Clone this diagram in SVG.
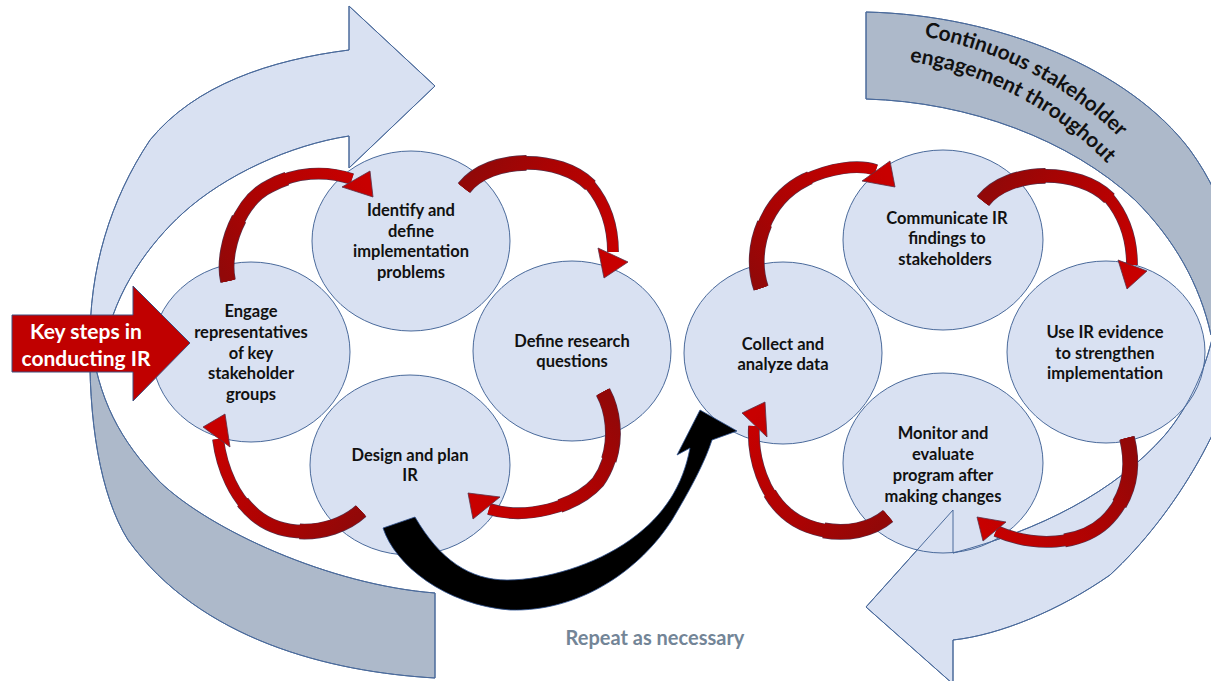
<svg xmlns="http://www.w3.org/2000/svg" xmlns:xlink="http://www.w3.org/1999/xlink" width="1211" height="681" viewBox="0 0 1211 681">
<defs>
<style>
.lt{fill:#D9E1F2;stroke:#4A6A9B;stroke-width:1}
.gr{fill:#ADB9CA;stroke:#4A6A9B;stroke-width:1}
.ol{fill:none;stroke:#4A6A9B;stroke-width:1}
.circ{fill:#D9E1F2;stroke:#4A6A9B;stroke-width:1}
.t{font-family:Lato,'Liberation Sans',sans-serif;font-weight:700;font-size:16.5px;fill:#111;text-anchor:middle}
.o1{fill:none;stroke:#5A3048;stroke-width:11.8}
.o2{fill:none;stroke:#5A3048;stroke-width:13.8;stroke-dasharray:66 200}
.o3{fill:none;stroke:#5A3048;stroke-width:15.8;stroke-dasharray:33 200}
.r1{fill:none;stroke-width:10.4}
.r2{fill:none;stroke-width:12.4;stroke-dasharray:66 200}
.r3{fill:none;stroke-width:14.4;stroke-dasharray:33 200}
.head{stroke:#5A3048;stroke-width:0.8}
</style>
<linearGradient id="rg"><stop offset="0" stop-color="#920808"/><stop offset="0.35" stop-color="#AA0303"/><stop offset="1" stop-color="#C80000"/></linearGradient>
<linearGradient id="gA" xlink:href="#rg" gradientUnits="userSpaceOnUse" x1="228" y1="281" x2="373" y2="197"/>
<linearGradient id="gB" xlink:href="#rg" gradientUnits="userSpaceOnUse" x1="464" y1="188" x2="604" y2="278"/>
<linearGradient id="gC" xlink:href="#rg" gradientUnits="userSpaceOnUse" x1="603" y1="392" x2="468" y2="493"/>
<linearGradient id="gD" xlink:href="#rg" gradientUnits="userSpaceOnUse" x1="361" y1="511" x2="225" y2="414"/>
<linearGradient id="gE" xlink:href="#rg" gradientUnits="userSpaceOnUse" x1="761" y1="288" x2="895" y2="187"/>
<linearGradient id="gF" xlink:href="#rg" gradientUnits="userSpaceOnUse" x1="983" y1="201" x2="1127" y2="289"/>
<linearGradient id="gG" xlink:href="#rg" gradientUnits="userSpaceOnUse" x1="1127" y1="438" x2="977" y2="517"/>
<linearGradient id="gH" xlink:href="#rg" gradientUnits="userSpaceOnUse" x1="888" y1="516" x2="765" y2="402"/>
<path id="cA" pathLength="100" d="M228,281 C221,250 240,200 270,186 C295,172 325,170 352,179"/>
<path id="cB" pathLength="100" d="M464,188 C490,155 560,155 590,185 C605,203 613,225 613,252"/>
<path id="cC" pathLength="100" d="M603,392 C617,418 617,455 598,482 C575,508 525,520 489,509"/>
<path id="cD" pathLength="100" d="M361,511 C335,535 285,540 255,515 C235,498 222,470 218,439"/>
<path id="cE" pathLength="100" d="M761,288 C748,250 765,200 805,180 C830,168 858,164 876,170"/>
<path id="cF" pathLength="100" d="M983,201 C1009,168 1079,168 1109,198 C1124,216 1132,238 1132,265"/>
<path id="cG" pathLength="100" d="M1127,438 C1135,470 1128,500 1105,522 C1080,545 1035,548 996,531"/>
<path id="cH" pathLength="100" d="M888,516 C860,540 810,535 786,513 C765,495 752,460 754,426"/>
<path id="pL1" d="M90,345 C89,270 110,200 150,140 C195,85 270,60 349,50 L349,6 L435,86 L349,168 L349,136 C290,145 225,175 183,213 C150,243 115,290 105,345 Z"/>
<path id="pL2" d="M435,678 C330,672 200,640 128,540 C100,495 88,420 90,335 C98,400 120,440 160,482 C210,530 330,585 435,593 Z"/>
<path id="pR1" d="M866,12 C1000,15 1130,70 1190,150 C1230,205 1245,270 1245,340 L1211,335 C1200,285 1175,240 1135,200 C1070,140 970,102 866,99 Z"/>
<path id="pR2" d="M1245,330 C1235,415 1175,515 1110,575 C1060,610 1000,635 953,640 L953,684 L866,607 L953,510 L953,553 C1040,530 1115,492 1165,435 C1190,405 1205,370 1213,335 Z"/>
<path id="arcT1" d="M778.9,40 A369,369 0 0 1 1200.4,257.6"/>
<path id="arcT2" d="M784.8,66.4 A342,342 0 0 1 1175.5,268"/>
</defs>

<g id="big-arrows">
<use xlink:href="#pL2" class="gr"/>
<use xlink:href="#pL1" class="lt"/>
<use xlink:href="#pR1" class="gr"/>
<use xlink:href="#pR2" class="lt"/>
</g>

<g id="node-engage">
<ellipse class="circ" cx="251" cy="352" rx="99" ry="90"/>
<text class="t"><tspan x="251" y="317">Engage</tspan><tspan x="251" y="338">representatives</tspan><tspan x="251" y="358.5">of key</tspan><tspan x="251" y="379">stakeholder</tspan><tspan x="251" y="400">groups</tspan></text>
</g>
<g id="node-identify">
<ellipse class="circ" cx="411" cy="241" rx="99" ry="90"/>
<text class="t"><tspan x="411" y="216">Identify and</tspan><tspan x="411" y="236.5">define</tspan><tspan x="411" y="257">implementation</tspan><tspan x="411" y="277.5">problems</tspan></text>
</g>
<g id="node-define">
<ellipse class="circ" cx="572" cy="351" rx="99" ry="90"/>
<text class="t"><tspan x="572" y="346.5">Define research</tspan><tspan x="572" y="367">questions</tspan></text>
</g>
<g id="node-design">
<ellipse class="circ" cx="410" cy="465" rx="100" ry="90"/>
<text class="t"><tspan x="410" y="460.5">Design and plan</tspan><tspan x="410" y="481">IR</tspan></text>
</g>
<g id="node-collect">
<ellipse class="circ" cx="783" cy="353" rx="99" ry="91"/>
<text class="t"><tspan x="783" y="349.5">Collect and</tspan><tspan x="783" y="370">analyze data</tspan></text>
</g>
<g id="node-communicate">
<ellipse class="circ" cx="943" cy="240" rx="100" ry="90"/>
<text class="t"><tspan x="947" y="224">Communicate IR</tspan><tspan x="947" y="244">findings to</tspan><tspan x="945" y="265">stakeholders</tspan></text>
</g>
<g id="node-use">
<ellipse class="circ" cx="1106" cy="352" rx="99" ry="91"/>
<text class="t"><tspan x="1105" y="338">Use IR evidence</tspan><tspan x="1105" y="358.5">to strengthen</tspan><tspan x="1105" y="379">implementation</tspan></text>
</g>
<g id="node-monitor">
<ellipse class="circ" cx="943" cy="463" rx="100" ry="90"/>
<text class="t"><tspan x="943" y="439">Monitor and</tspan><tspan x="943" y="460">evaluate</tspan><tspan x="943" y="480.5">program after</tspan><tspan x="943" y="501.5">making changes</tspan></text>
</g>

<g id="big-arrow-outlines">
<use xlink:href="#pL2" class="ol"/>
<use xlink:href="#pL1" class="ol"/>
<use xlink:href="#pR1" class="ol"/>
<use xlink:href="#pR2" class="ol"/>
</g>

<g id="connectors">
<g id="arrow-a">
<use xlink:href="#cA" class="o1"/><use xlink:href="#cA" class="o2"/><use xlink:href="#cA" class="o3"/>
<use xlink:href="#cA" class="r1" stroke="url(#gA)"/><use xlink:href="#cA" class="r2" stroke="url(#gA)"/><use xlink:href="#cA" class="r3" stroke="url(#gA)"/>
<polygon class="head" fill="url(#gA)" points="370,171 373,197 342,187"/>
</g>
<g id="arrow-b">
<use xlink:href="#cB" class="o1"/><use xlink:href="#cB" class="o2"/><use xlink:href="#cB" class="o3"/>
<use xlink:href="#cB" class="r1" stroke="url(#gB)"/><use xlink:href="#cB" class="r2" stroke="url(#gB)"/><use xlink:href="#cB" class="r3" stroke="url(#gB)"/>
<polygon class="head" fill="url(#gB)" points="598,248 604,278 628,262"/>
</g>
<g id="arrow-c">
<use xlink:href="#cC" class="o1"/><use xlink:href="#cC" class="o2"/><use xlink:href="#cC" class="o3"/>
<use xlink:href="#cC" class="r1" stroke="url(#gC)"/><use xlink:href="#cC" class="r2" stroke="url(#gC)"/><use xlink:href="#cC" class="r3" stroke="url(#gC)"/>
<polygon class="head" fill="url(#gC)" points="500,497 468,493 473,519"/>
</g>
<g id="arrow-d">
<use xlink:href="#cD" class="o1"/><use xlink:href="#cD" class="o2"/><use xlink:href="#cD" class="o3"/>
<use xlink:href="#cD" class="r1" stroke="url(#gD)"/><use xlink:href="#cD" class="r2" stroke="url(#gD)"/><use xlink:href="#cD" class="r3" stroke="url(#gD)"/>
<polygon class="head" fill="url(#gD)" points="203,427 225,414 230,447"/>
</g>
<g id="arrow-e">
<use xlink:href="#cE" class="o1"/><use xlink:href="#cE" class="o2"/><use xlink:href="#cE" class="o3"/>
<use xlink:href="#cE" class="r1" stroke="url(#gE)"/><use xlink:href="#cE" class="r2" stroke="url(#gE)"/><use xlink:href="#cE" class="r3" stroke="url(#gE)"/>
<polygon class="head" fill="url(#gE)" points="890,161 895,187 862,181"/>
</g>
<g id="arrow-f">
<use xlink:href="#cF" class="o1"/><use xlink:href="#cF" class="o2"/><use xlink:href="#cF" class="o3"/>
<use xlink:href="#cF" class="r1" stroke="url(#gF)"/><use xlink:href="#cF" class="r2" stroke="url(#gF)"/><use xlink:href="#cF" class="r3" stroke="url(#gF)"/>
<polygon class="head" fill="url(#gF)" points="1118,260 1127,289 1147,271"/>
</g>
<g id="arrow-g">
<use xlink:href="#cG" class="o1"/><use xlink:href="#cG" class="o2"/><use xlink:href="#cG" class="o3"/>
<use xlink:href="#cG" class="r1" stroke="url(#gG)"/><use xlink:href="#cG" class="r2" stroke="url(#gG)"/><use xlink:href="#cG" class="r3" stroke="url(#gG)"/>
<polygon class="head" fill="url(#gG)" points="1006,522 977,517 983,541"/>
</g>
<g id="arrow-h">
<use xlink:href="#cH" class="o1"/><use xlink:href="#cH" class="o2"/><use xlink:href="#cH" class="o3"/>
<use xlink:href="#cH" class="r1" stroke="url(#gH)"/><use xlink:href="#cH" class="r2" stroke="url(#gH)"/><use xlink:href="#cH" class="r3" stroke="url(#gH)"/>
<polygon class="head" fill="url(#gH)" points="742,413 765,402 767,437"/>
</g>
<path id="arrow-repeat" fill="#000" stroke="#2F528F" stroke-width="0.8" d="M383,528 C395,565 445,605 510,610 C580,612 640,570 672,520 C690,490 705,462 712,440 L737,431 L700,410 L677,455 L690,448 C683,485 665,515 630,540 C595,565 545,580 507,580 C470,580 440,560 415,517 Z"/>
</g>

<g id="node-keysteps">
<polygon fill="#C00000" stroke="#3E4E7E" stroke-width="1" points="12,315 133,315 133,286 190,343 133,401 133,372 12,372"/>
<text font-family="Lato,'Liberation Sans',sans-serif" font-weight="700" font-size="21" fill="#FFFFFF" text-anchor="middle"><tspan x="86" y="339">Key steps in</tspan><tspan x="86" y="366">conducting IR</tspan></text>
</g>

<g id="label-continuous" font-family="Lato,'Liberation Sans',sans-serif" font-weight="700" font-size="21" fill="#111">
<text><textPath xlink:href="#arcT1" startOffset="50%" text-anchor="middle">Continuous stakeholder</textPath></text>
<text><textPath xlink:href="#arcT2" startOffset="50%" text-anchor="middle">engagement throughout</textPath></text>
</g>

<g id="label-repeat">
<text x="655" y="645" font-family="Lato,'Liberation Sans',sans-serif" font-weight="700" font-size="20" fill="#738597" text-anchor="middle">Repeat as necessary</text>
</g>
</svg>
